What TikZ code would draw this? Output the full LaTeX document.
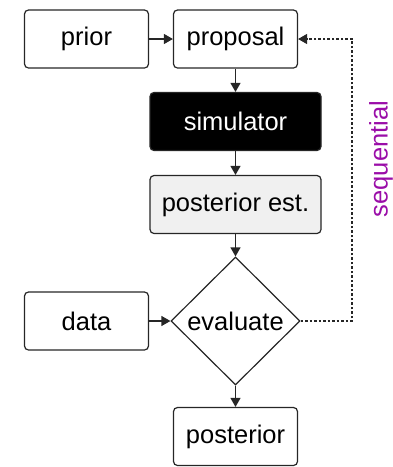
\documentclass[tikz,border=0pt]{standalone}
\usepackage{fontspec}
\setmainfont{Liberation Sans}
\usetikzlibrary{shapes.geometric,arrows.meta}
\definecolor{seqpurple}{HTML}{9A0DA8}
\definecolor{estgray}{HTML}{F0F0F0}
\begin{document}
\begin{tikzpicture}[x=1pt,y=-1pt,
  font=\fontsize{25.5}{30}\selectfont,
  box/.style={draw=black!85, line width=1.2pt, rounded corners=4pt,
    minimum height=58pt, inner sep=0pt},
  narrowbox/.style={box, minimum width=124pt},
  widebox/.style={box, minimum width=171pt},
  flow/.style={draw=black!85, line width=1.2pt,
    -{Triangle[width=10pt,length=9pt]}},
  loop/.style={draw=black!85, line width=1.1pt, dash pattern=on 2.5pt off 2pt,
    -{Triangle[width=10pt,length=9pt]}}]
\useasboundingbox (0,0) rectangle (393,467);

\node[narrowbox] (prior) at (86.5,39) {prior};
\node[narrowbox] (proposal) at (235.5,39) {proposal};
\node[widebox, fill=black, text=white] (sim) at (235.5,121.5) {simulator};
\node[widebox, fill=estgray] (est) at (235.5,204.5) {posterior est.};
\node[diamond, draw=black!85, line width=1.2pt, minimum width=129pt,
  minimum height=128pt, inner sep=0pt] (eval) at (235.5,321) {};
\node at (eval.center) {evaluate};
\node[narrowbox] (data) at (86.5,321) {data};
\node[narrowbox] (post) at (235.5,436.5) {posterior};

\coordinate (loopbot) at (352,321);
\coordinate (looptop) at (352,39);

\draw[flow] (prior) -- (proposal);
\draw[flow] (proposal) -- (sim);
\draw[flow] (sim) -- (est);
\draw[flow] (est) -- (eval.north);
\draw[flow] (data) -- (eval.west);
\draw[flow] (eval.south) -- (post);
\draw[loop] (eval.east) -- (loopbot) -- (looptop) -- (proposal.east);

\node[text=seqpurple, rotate=90, anchor=center, inner sep=0pt] (seq) at (381,159) {sequential};
\end{tikzpicture}
\end{document}
